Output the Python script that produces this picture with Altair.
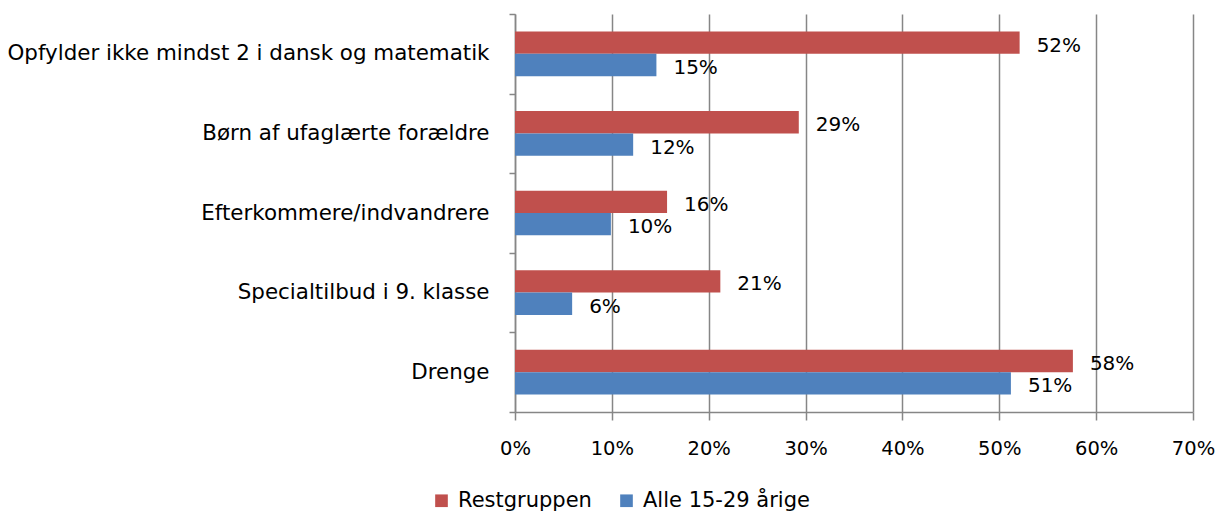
import altair as alt
import pandas as pd

categories = [
    "Opfylder ikke mindst 2 i dansk og matematik",
    "Børn af ufaglærte forældre",
    "Efterkommere/indvandrere",
    "Specialtilbud i 9. klasse",
    "Drenge",
]
series = ["Restgruppen", "Alle 15-29 årige"]
restgruppen = [0.521, 0.293, 0.157, 0.212, 0.576]
alle = [0.146, 0.122, 0.099, 0.059, 0.512]
colors = ["#C0504D", "#4F81BD"]

rows = []
for c, r, a in zip(categories, restgruppen, alle):
    rows.append({"cat": c, "series": series[0], "value": r})
    rows.append({"cat": c, "series": series[1], "value": a})
df = pd.DataFrame(rows)

FONT = "DejaVu Sans"
FS = 20

y = alt.Y("cat:N", sort=categories, title=None,
          scale=alt.Scale(paddingInner=0, paddingOuter=0),
          axis=alt.Axis(tickBand="extent", labelFontSize=21.4, labelFont=FONT,
                        labelColor="black", domainColor="#868686", tickColor="#868686",
                        domainWidth=1.5, tickWidth=1.5,
                        tickSize=6, labelPadding=20, labelLimit=600))
yoff = alt.YOffset("series:N", sort=series,
                   scale=alt.Scale(paddingInner=0, paddingOuter=0.78))
x = alt.X("value:Q", title=None,
          scale=alt.Scale(domain=[0, 0.7], nice=False),
          axis=alt.Axis(format="%", values=[0, 0.1, 0.2, 0.3, 0.4, 0.5, 0.6, 0.7],
                        labelFontSize=19.5, labelFont=FONT, labelColor="black",
                        labelFlush=False,
                        gridColor="#868686", gridWidth=1.5, domainColor="#868686",
                        domainWidth=1.5, tickWidth=1.5,
                        tickColor="#868686", tickSize=8, labelPadding=19))

bars = alt.Chart(df).mark_bar().encode(
    y=y, yOffset=yoff, x=x,
    color=alt.Color("series:N", sort=series,
                    scale=alt.Scale(domain=series, range=colors),
                    legend=alt.Legend(title=None, orient="none", legendX=-84, legendY=476,
                                      direction="horizontal", symbolType="square",
                                      symbolSize=160, labelFontSize=21, labelFont=FONT,
                                      labelColor="black", columnPadding=24,
                                      labelLimit=400,
                                      symbolStrokeWidth=0, labelOffset=6)),
)

labels = alt.Chart(df).mark_text(align="left", dx=17, dy=3, fontSize=FS,
                                 font=FONT, color="black").encode(
    y=alt.Y("cat:N", sort=categories), yOffset=yoff, x="value:Q",
    text=alt.Text("value:Q", format=".0%"),
)

chart = (bars + labels).properties(
    width=678, height=398,
    autosize=alt.AutoSizeParams(type="none"),
    padding={"left": 507, "top": 6, "right": 22, "bottom": 100},
).configure_view(stroke=None).configure_axis(grid=False).configure_axisX(grid=True)

chart.save("out.html", embed_options={"renderer": "svg", "actions": False})
